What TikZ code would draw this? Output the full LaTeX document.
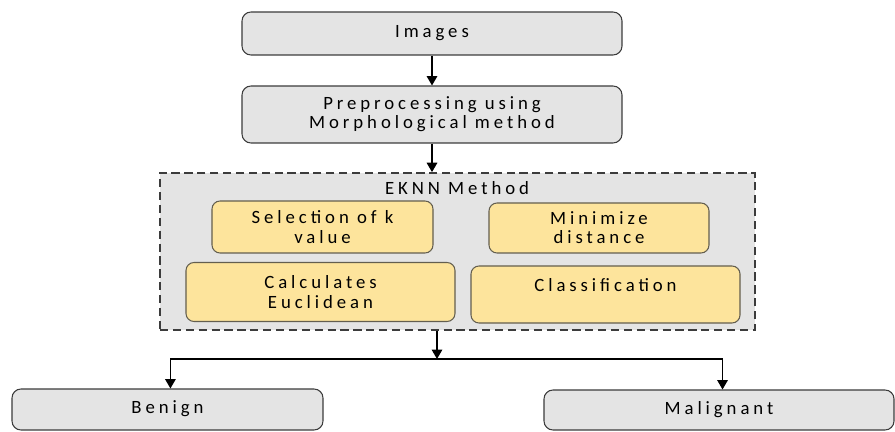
\documentclass[tikz,border=0pt]{standalone}
\usepackage{fontspec}
\setmainfont{Carlito}[LetterSpace=21]
\usetikzlibrary{arrows.meta}

\definecolor{boxgray}{HTML}{E4E4E4}
\definecolor{boxgold}{HTML}{FDE49C}
\definecolor{edgegray}{HTML}{3C3C3C}

\begin{document}
\begin{tikzpicture}[x=0.03cm,y=-0.03cm,
    every node/.style={font=\fontsize{16}{16.4}\selectfont,inner sep=0pt,align=center},
    graybox/.style={draw=edgegray,line width=0.9pt,fill=boxgray,rounded corners=0.27cm},
    goldbox/.style={draw=edgegray!80!boxgold,line width=0.9pt,fill=boxgold,rounded corners=0.24cm},
    flow/.style={line width=1.1pt,-{Triangle[length=8pt,width=9pt]}}]
    \useasboundingbox (0,0) rectangle (895,432);
    %top of the chain
    \node[graybox,minimum width=11.4cm,minimum height=1.29cm] (imgs) at (432,33.5) {Images};
    \node[graybox,minimum width=11.4cm,minimum height=1.71cm] (prep) at (432,114.5)
        {Preprocessing using\\Morphological method};
    %EKNN block
    \node[draw=edgegray,dashed,dash pattern=on 7pt off 4pt,line width=1.5pt,fill=boxgray,
        minimum width=17.85cm,minimum height=4.71cm] (eknn) at (457.5,251.5) {};
    \node (eknnlbl) at (457,188) {EKNN Method};
    \node[goldbox,minimum width=6.63cm,minimum height=1.56cm] (sel) at (322.5,227)
        {Selection of k\\value};
    \node[goldbox,minimum width=6.6cm,minimum height=1.5cm] (mini) at (599,228)
        {Minimize\\distance};
    \node[goldbox,minimum width=8.07cm,minimum height=1.77cm] (calc) at (320.5,292)
        {Calculates\\Euclidean};
    \node[goldbox,minimum width=8.07cm,minimum height=1.71cm] (clas) at (605.5,294.5)
        {Classification\\~};
    %results
    \node[graybox,minimum width=9.33cm,minimum height=1.23cm] (benign) at (167.5,409.5)
        {\raisebox{4pt}{Benign}};
    \node[graybox,minimum width=10.5cm,minimum height=1.2cm] (malig) at (719,410)
        {\raisebox{3pt}{Malignant}};
    \coordinate (split) at (437,359);

    \draw[flow] (imgs.south -| prep.south) -- (prep.north);
    \draw[flow] (prep.south) -- (prep.south |- eknn.north);
    \draw[flow] (split |- eknn.south) -- (split);
    \draw[flow] (split) -| ([xshift=2.5]benign.north);
    \draw[flow] (split) -| ([xshift=3]malig.north);
\end{tikzpicture}
\end{document}
